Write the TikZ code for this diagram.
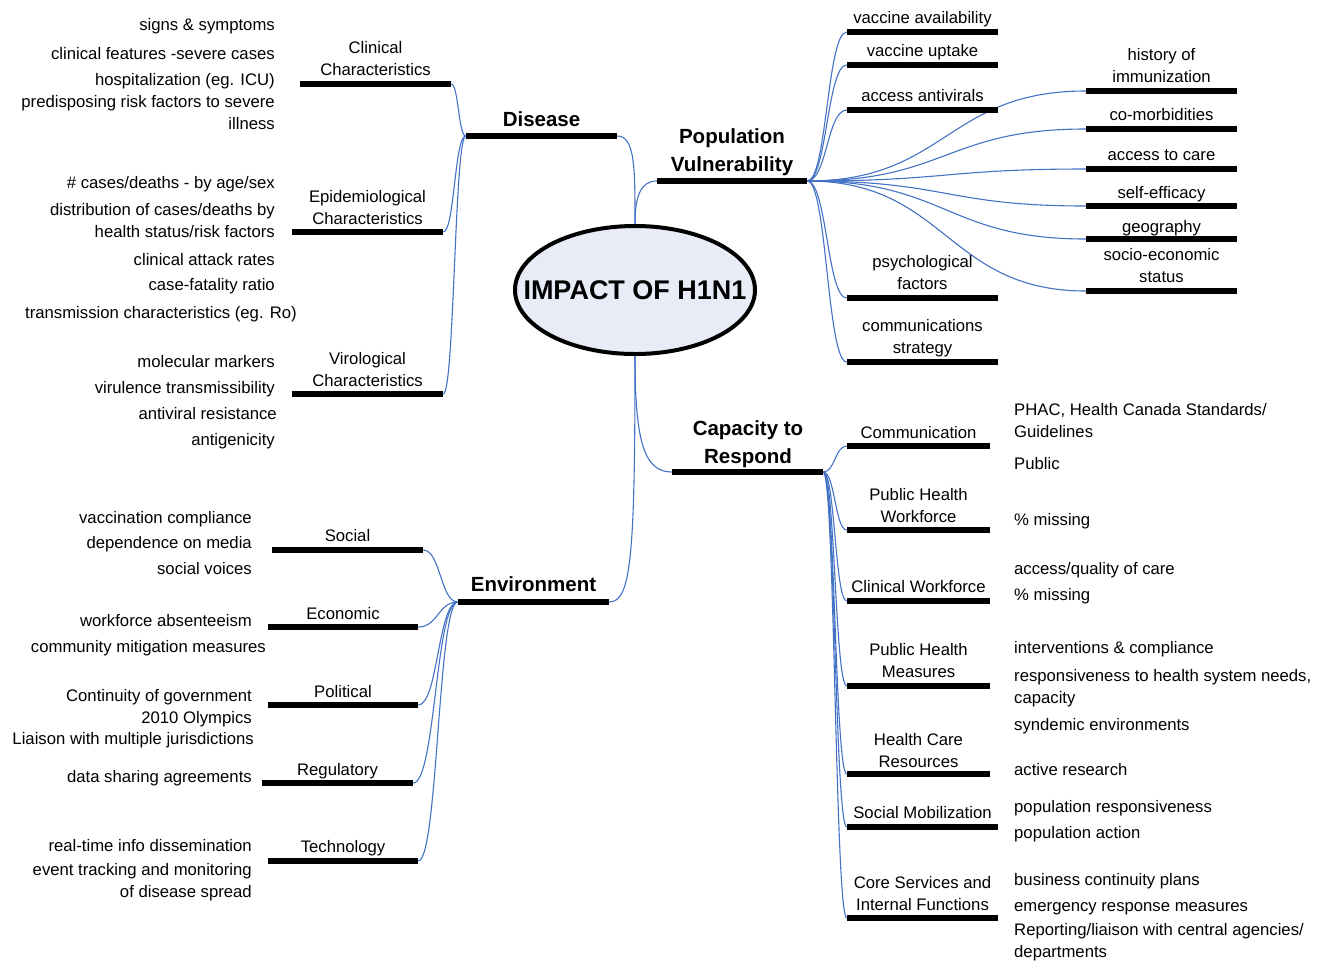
\documentclass[tikz,border=0pt]{standalone}
\usepackage{fontspec}
\setmainfont{Liberation Sans}
\usetikzlibrary{shapes.geometric,calc,backgrounds}
\definecolor{linkblue}{RGB}{68,114,196}
\definecolor{ellfill}{RGB}{231,236,247}
\newcommand{\ctab}[1]{\begin{tabular}[b]{@{}c@{}}#1\end{tabular}}
\newcommand{\rtab}[1]{\begin{tabular}[t]{@{}r@{}}#1\end{tabular}}
\newcommand{\ltab}[1]{\begin{tabular}[t]{@{}l@{}}#1\end{tabular}}
\newcommand{\mlink}[2]{\draw[conn] let \p1=(#1), \p2=(#2) in (\p1) .. controls ({0.5*\x1+0.5*\x2},\y1) and ({0.5*\x1+0.5*\x2},\y2) .. (\p2);}
\tikzset{
  txt/.style={inner sep=0pt, font=\fontsize{16.7}{22}\selectfont},
  lbl/.style={txt, anchor=base},
  big/.style={inner sep=0pt, anchor=base, font=\bfseries\fontsize{20.5}{27.5}\selectfont},
  itemR/.style={txt, anchor=base east},
  itemL/.style={txt, anchor=base west},
  barline/.style={fill=black, draw=none, inner sep=0pt, minimum height=5.5pt, minimum width=#1},
  conn/.style={draw=linkblue, line width=1.1pt},
}
\begin{document}
\begin{tikzpicture}[x=1pt,y=-1pt]
\useasboundingbox (0,0) rectangle (1322,962);

% centre
\node[ellipse, draw=black, line width=4pt, fill=ellfill, minimum width=240pt, minimum height=128pt, inner sep=0pt, font=\bfseries\fontsize{27}{32}\selectfont] (ell) at (635,290) {\makebox[0pt][c]{IMPACT OF H1N1}};

% main branches
\node[barline=151pt] (dis) at (541.5,136) {};
\node[big] (disL) at (541.5,126) {Disease};
\node[barline=150pt] (pv) at (732,181) {};
\node[big] (pvL) at (732,171) {\ctab{Population\\Vulnerability}};
\node[barline=151pt] (cap) at (747.5,472) {};
\node[big] (capL) at (748,463) {\ctab{Capacity to\\Respond}};
\node[barline=151pt] (env) at (533.5,602) {};
\node[big] (envL) at (533.5,591) {Environment};

% disease children
\node[barline=151pt] (cc) at (375.5,84) {};
\node[lbl] (ccL) at (375.5,75) {\ctab{Clinical\\Characteristics}};
\node[barline=151pt] (ec) at (367.5,232) {};
\node[lbl] (ecL) at (367.5,224) {\ctab{Epidemiological\\Characteristics}};
\node[barline=151pt] (vc) at (367.5,394) {};
\node[lbl] (vcL) at (367.5,386) {\ctab{Virological\\Characteristics}};

% population vulnerability children
\node[barline=151pt] (va) at (922.5,32) {};
\node[lbl] (vaL) at (922.5,23) {vaccine availability};
\node[barline=151pt] (vu) at (922.5,65) {};
\node[lbl] (vuL) at (922.5,56) {vaccine uptake};
\node[barline=151pt] (aa) at (922.5,110) {};
\node[lbl] (aaL) at (922.5,101) {access antivirals};
\node[barline=151pt] (pf) at (922.5,298) {};
\node[lbl] (pfL) at (922.5,289) {\ctab{psychological\\factors}};
\node[barline=151pt] (cs) at (922.5,362) {};
\node[lbl] (csL) at (922.5,353) {\ctab{communications\\strategy}};
\node[barline=151pt] (hi) at (1161.5,91) {};
\node[lbl] (hiL) at (1161.5,82) {\ctab{history of\\immunization}};
\node[barline=151pt] (co) at (1161.5,129) {};
\node[lbl] (coL) at (1161.5,120) {co-morbidities};
\node[barline=151pt] (ac) at (1161.5,169) {};
\node[lbl] (acL) at (1161.5,160) {access to care};
\node[barline=151pt] (se) at (1161.5,206) {};
\node[lbl] (seL) at (1161.5,198) {self-efficacy};
\node[barline=151pt] (ge) at (1161.5,239) {};
\node[lbl] (geL) at (1161.5,232) {geography};
\node[barline=151pt] (ses) at (1161.5,291) {};
\node[lbl] (sesL) at (1161.5,282) {\ctab{socio-economic\\status}};

% capacity children
\node[barline=143pt] (com) at (918.5,446) {};
\node[lbl] (comL) at (918.5,438) {Communication};
\node[barline=143pt] (phw) at (918.5,530) {};
\node[lbl] (phwL) at (918.5,522) {\ctab{Public Health\\Workforce}};
\node[barline=143pt] (cw) at (918.5,601) {};
\node[lbl] (cwL) at (918.5,592) {Clinical Workforce};
\node[barline=143pt] (phm) at (918.5,686) {};
\node[lbl] (phmL) at (918.5,677) {\ctab{Public Health\\Measures}};
\node[barline=143pt] (hcr) at (918.5,774) {};
\node[lbl] (hcrL) at (918.5,767) {\ctab{Health Care\\Resources}};
\node[barline=151pt] (sm) at (922.5,827) {};
\node[lbl] (smL) at (922.5,818) {Social Mobilization};
\node[barline=151pt] (csf) at (922.5,918) {};
\node[lbl] (csfL) at (922.5,910) {\ctab{Core Services and\\Internal Functions}};

% environment children
\node[barline=151pt] (soc) at (347.5,550) {};
\node[lbl] (socL) at (347.5,541) {Social};
\node[barline=150pt] (eco) at (343,627) {};
\node[lbl] (ecoL) at (343,619) {Economic};
\node[barline=150pt] (pol) at (343,705) {};
\node[lbl] (polL) at (343,697) {Political};
\node[barline=151pt] (reg) at (337.5,783) {};
\node[lbl] (regL) at (337.5,775) {Regulatory};
\node[barline=150pt] (tec) at (343,861) {};
\node[lbl] (tecL) at (343,852) {Technology};

% disease items
\node[itemR] (d1) at (275,30) {signs \& symptoms};
\node[itemR] (d2) at (275,59) {clinical features -severe cases};
\node[itemR] (d3) at (275,85) {hospitalization (eg. ICU)};
\node[itemR] (d4) at (275,107) {\rtab{predisposing risk factors to severe\\illness}};
\node[itemR] (d5) at (275,188) {\# cases/deaths - by age/sex};
\node[itemR] (d6) at (275,215) {\rtab{distribution of cases/deaths by\\health status/risk factors}};
\node[itemR] (d7) at (275,265) {clinical attack rates};
\node[itemR] (d8) at (275,290) {case-fatality ratio};
\node[itemR] (d9) at (297,318) {transmission characteristics (eg. Ro)};
\node[itemR] (d10) at (275,367) {molecular markers};
\node[itemR] (d11) at (275,393) {virulence transmissibility};
\node[itemR] (d12) at (277,419) {antiviral resistance};
\node[itemR] (d13) at (275,445) {antigenicity};

% environment items
\node[itemR] (e1) at (252,523) {vaccination compliance};
\node[itemR] (e2) at (252,548) {dependence on media};
\node[itemR] (e3) at (252,574) {social voices};
\node[itemR] (e4) at (252,626) {workforce absenteeism};
\node[itemR] (e5) at (266,652) {community mitigation measures};
\node[itemR] (e6) at (252,701) {Continuity of government};
\node[itemR] (e7) at (252,723) {2010 Olympics};
\node[itemR] (e8) at (254,744) {Liaison with multiple jurisdictions};
\node[itemR] (e9) at (252,782) {data sharing agreements};
\node[itemR] (e10) at (252,851) {real-time info dissemination};
\node[itemR] (e11) at (252,875) {\rtab{event tracking and monitoring\\of disease spread}};

% capacity items
\node[itemL] (c1) at (1014,415) {\ltab{PHAC, Health Canada Standards/\\Guidelines}};
\node[itemL] (c2) at (1014,469) {Public};
\node[itemL] (c3) at (1014,525) {\% missing};
\node[itemL] (c4) at (1014,574) {access/quality of care};
\node[itemL] (c5) at (1014,600) {\% missing};
\node[itemL] (c6) at (1014,653) {interventions \& compliance};
\node[itemL] (c7) at (1014,681) {\ltab{responsiveness to health system needs,\\capacity}};
\node[itemL] (c8) at (1014,730) {syndemic environments};
\node[itemL] (c9) at (1014,775) {active research};
\node[itemL] (c10) at (1014,812) {population responsiveness};
\node[itemL] (c11) at (1014,838) {population action};
\node[itemL] (c12) at (1014,885) {business continuity plans};
\node[itemL] (c13) at (1014,911) {emergency response measures};
\node[itemL] (c14) at (1014,935) {\ltab{Reporting/liaison with central agencies/\\departments}};

\begin{scope}[on background layer]
\fill[white] (0,0) rectangle (1322,962);
\draw[conn] (ell.north) .. controls +(0,-55) and +(18,0) .. (dis.east);
\draw[conn] (ell.north) .. controls +(0,-28) and +(-16,0) .. (pv.west);
\draw[conn] (ell.south) .. controls +(0,85) and +(-28,0) .. (cap.west);
\draw[conn] (ell.south) .. controls +(0,200) and +(22,0) .. (env.east);
\mlink{dis.west}{cc.east}
\mlink{dis.west}{ec.east}
\mlink{dis.west}{vc.east}
\mlink{pv.east}{va.west}
\mlink{pv.east}{vu.west}
\mlink{pv.east}{aa.west}
\mlink{pv.east}{pf.west}
\mlink{pv.east}{cs.west}
\mlink{pv.east}{hi.west}
\mlink{pv.east}{co.west}
\mlink{pv.east}{ac.west}
\mlink{pv.east}{se.west}
\mlink{pv.east}{ge.west}
\mlink{pv.east}{ses.west}
\mlink{cap.east}{com.west}
\mlink{cap.east}{phw.west}
\mlink{cap.east}{cw.west}
\mlink{cap.east}{phm.west}
\mlink{cap.east}{hcr.west}
\mlink{cap.east}{sm.west}
\mlink{cap.east}{csf.west}
\mlink{env.west}{soc.east}
\mlink{env.west}{eco.east}
\mlink{env.west}{pol.east}
\mlink{env.west}{reg.east}
\mlink{env.west}{tec.east}
\end{scope}
\end{tikzpicture}
\end{document}
